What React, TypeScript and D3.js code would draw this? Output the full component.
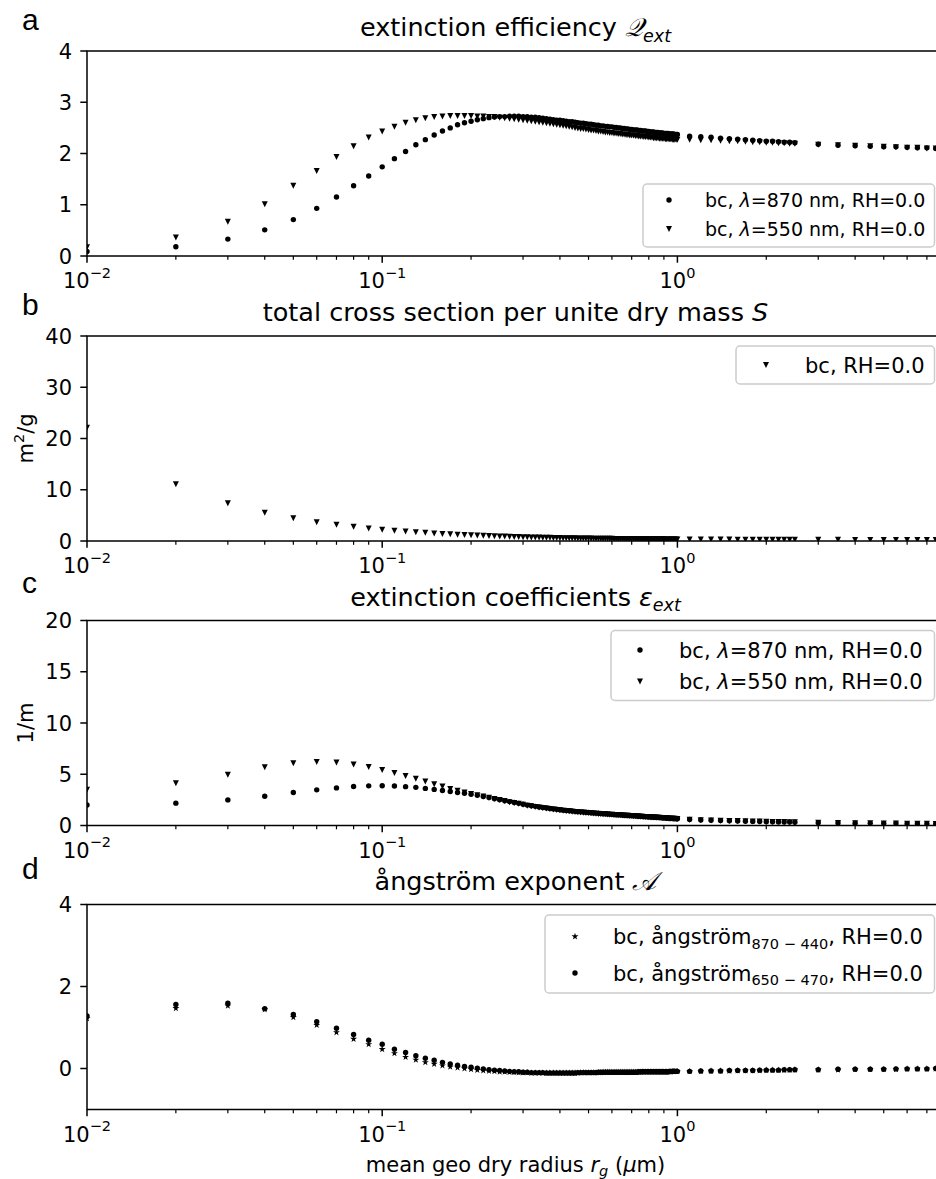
import React from 'react';
import * as d3 from 'd3';

// mean geo dry radius r_g (um)
const radius = [
  0.01, 0.02, 0.03, 0.04, 0.05, 0.06, 0.07, 0.08, 0.09, 0.10,
  0.11, 0.12, 0.13, 0.14, 0.15, 0.16, 0.17, 0.18, 0.19, 0.20,
  0.21, 0.22, 0.23, 0.24, 0.25, 0.26, 0.27, 0.28, 0.29, 0.30,
  0.31, 0.32, 0.33, 0.34, 0.35, 0.36, 0.37, 0.38, 0.39, 0.40,
  0.41, 0.42, 0.43, 0.44, 0.45, 0.46, 0.47, 0.48, 0.49, 0.50,
  0.51, 0.52, 0.53, 0.54, 0.55, 0.56, 0.57, 0.58, 0.59, 0.60,
  0.61, 0.62, 0.63, 0.64, 0.65, 0.66, 0.67, 0.68, 0.69, 0.70,
  0.71, 0.72, 0.73, 0.74, 0.75, 0.76, 0.77, 0.78, 0.79, 0.80,
  0.81, 0.82, 0.83, 0.84, 0.85, 0.86, 0.87, 0.88, 0.89, 0.90,
  0.91, 0.92, 0.93, 0.94, 0.95, 0.96, 0.97, 0.98, 0.99, 1.00,
  1.1, 1.2, 1.3, 1.4, 1.5, 1.6, 1.7, 1.8, 1.9, 2.0, 2.1, 2.2, 2.3, 2.4, 2.5,
  3.0, 3.5, 4.0, 4.5, 5.0, 5.5, 6.0, 6.5, 7.0, 7.5,
];

// a: extinction efficiency
const qext870 = [
  0.09, 0.18, 0.33, 0.51, 0.71, 0.93, 1.15, 1.37, 1.56, 1.74,
  1.90, 2.04, 2.17, 2.27, 2.36, 2.44, 2.50, 2.56, 2.60, 2.63,
  2.66, 2.68, 2.70, 2.71, 2.72, 2.72, 2.73, 2.73, 2.73, 2.72,
  2.72, 2.71, 2.71, 2.70, 2.69, 2.68, 2.67, 2.66, 2.65, 2.65,
  2.64, 2.63, 2.62, 2.62, 2.61, 2.60, 2.59, 2.59, 2.58, 2.57,
  2.57, 2.56, 2.55, 2.55, 2.54, 2.54, 2.53, 2.53, 2.52, 2.52,
  2.51, 2.51, 2.50, 2.50, 2.49, 2.49, 2.48, 2.48, 2.47, 2.47,
  2.46, 2.46, 2.46, 2.45, 2.45, 2.44, 2.44, 2.44, 2.43, 2.43,
  2.42, 2.42, 2.42, 2.41, 2.41, 2.41, 2.40, 2.40, 2.40, 2.39,
  2.39, 2.39, 2.39, 2.38, 2.38, 2.38, 2.38, 2.37, 2.37, 2.37,
  2.34, 2.33, 2.32, 2.30, 2.29, 2.28, 2.27, 2.26, 2.25, 2.24, 2.24, 2.23, 2.22, 2.22, 2.21,
  2.18, 2.16, 2.15, 2.14, 2.13, 2.13, 2.12, 2.11, 2.11, 2.10,
];
const qext550 = [
  0.17, 0.36, 0.67, 1.01, 1.37, 1.66, 1.93, 2.14, 2.31, 2.43,
  2.52, 2.60, 2.65, 2.69, 2.71, 2.72, 2.73, 2.73, 2.73, 2.73,
  2.72, 2.72, 2.71, 2.71, 2.70, 2.69, 2.68, 2.67, 2.66, 2.65,
  2.64, 2.63, 2.62, 2.61, 2.60, 2.59, 2.58, 2.57, 2.56, 2.55,
  2.54, 2.53, 2.52, 2.51, 2.50, 2.49, 2.48, 2.48, 2.47, 2.46,
  2.45, 2.45, 2.44, 2.43, 2.43, 2.42, 2.41, 2.41, 2.40, 2.40,
  2.39, 2.39, 2.38, 2.38, 2.37, 2.37, 2.36, 2.36, 2.35, 2.35,
  2.35, 2.34, 2.34, 2.33, 2.33, 2.33, 2.32, 2.32, 2.32, 2.31,
  2.31, 2.31, 2.30, 2.30, 2.30, 2.30, 2.29, 2.29, 2.29, 2.29,
  2.28, 2.28, 2.28, 2.28, 2.28, 2.27, 2.27, 2.27, 2.27, 2.27,
  2.27, 2.26, 2.26, 2.25, 2.24, 2.24, 2.23, 2.22, 2.22, 2.21, 2.21, 2.20, 2.20, 2.19, 2.19,
  2.17, 2.16, 2.15, 2.14, 2.13, 2.12, 2.11, 2.11, 2.10, 2.10,
];

// b: total cross section per unit dry mass (m2/g)
const sigma550 = [
  22.1, 11.05, 7.37, 5.52, 4.42, 3.68, 3.15, 2.76, 2.45, 2.21,
  2.02, 1.85, 1.71, 1.59, 1.48, 1.39, 1.31, 1.24, 1.17, 1.11,
  1.06, 1.01, 0.97, 0.93, 0.89, 0.86, 0.83, 0.80, 0.77, 0.75,
  0.72, 0.70, 0.68, 0.66, 0.64, 0.63, 0.61, 0.60, 0.58, 0.57,
  0.56, 0.55, 0.54, 0.53, 0.52, 0.51, 0.50, 0.49, 0.48, 0.48,
  0.47, 0.46, 0.46, 0.45, 0.44, 0.44, 0.43, 0.43, 0.42, 0.42,
  0.41, 0.41, 0.40, 0.40, 0.39, 0.39, 0.39, 0.38, 0.38, 0.37,
  0.37, 0.37, 0.36, 0.36, 0.36, 0.35, 0.35, 0.35, 0.34, 0.34,
  0.34, 0.34, 0.33, 0.33, 0.33, 0.33, 0.32, 0.32, 0.32, 0.32,
  0.31, 0.31, 0.31, 0.31, 0.31, 0.30, 0.30, 0.30, 0.30, 0.30,
  0.29, 0.28, 0.28, 0.27, 0.27, 0.26, 0.26, 0.25, 0.25, 0.25, 0.24, 0.24, 0.24, 0.23, 0.23,
  0.22, 0.22, 0.21, 0.21, 0.20, 0.20, 0.20, 0.19, 0.19, 0.19,
];

// c: extinction coefficients (1/m)
const ext870 = [
  2.00, 2.18, 2.50, 2.86, 3.22, 3.48, 3.67, 3.80, 3.87, 3.88,
  3.85, 3.79, 3.72, 3.62, 3.52, 3.42, 3.32, 3.22, 3.14, 3.05,
  2.94, 2.83, 2.72, 2.62, 2.52, 2.42, 2.33, 2.24, 2.16, 2.08,
  1.99, 1.93, 1.87, 1.81, 1.76, 1.71, 1.66, 1.62, 1.58, 1.54,
  1.50, 1.47, 1.44, 1.41, 1.38, 1.35, 1.33, 1.31, 1.29, 1.27,
  1.25, 1.23, 1.21, 1.19, 1.17, 1.15, 1.14, 1.12, 1.11, 1.09,
  1.08, 1.06, 1.05, 1.04, 1.02, 1.01, 1.00, 0.98, 0.97, 0.96,
  0.95, 0.94, 0.92, 0.91, 0.90, 0.89, 0.88, 0.87, 0.86, 0.85,
  0.84, 0.83, 0.82, 0.81, 0.80, 0.79, 0.78, 0.77, 0.76, 0.75,
  0.74, 0.73, 0.72, 0.71, 0.70, 0.70, 0.69, 0.68, 0.67, 0.66,
  0.58, 0.54, 0.51, 0.48, 0.46, 0.44, 0.42, 0.40, 0.39, 0.37, 0.36, 0.35, 0.34, 0.33, 0.32,
  0.27, 0.25, 0.23, 0.21, 0.20, 0.19, 0.18, 0.17, 0.16, 0.15,
];
const ext550 = [
  3.48, 4.13, 4.94, 5.68, 6.07, 6.20, 6.14, 5.94, 5.71, 5.42,
  5.13, 4.84, 4.55, 4.29, 4.03, 3.80, 3.57, 3.38, 3.22, 3.07,
  2.94, 2.82, 2.70, 2.59, 2.48, 2.38, 2.28, 2.19, 2.11, 2.03,
  1.93, 1.87, 1.81, 1.75, 1.70, 1.65, 1.60, 1.56, 1.52, 1.48,
  1.44, 1.41, 1.38, 1.35, 1.32, 1.29, 1.27, 1.25, 1.23, 1.21,
  1.19, 1.17, 1.15, 1.13, 1.12, 1.10, 1.09, 1.07, 1.06, 1.04,
  1.03, 1.01, 1.00, 0.99, 0.97, 0.96, 0.95, 0.94, 0.93, 0.92,
  0.91, 0.90, 0.88, 0.87, 0.86, 0.85, 0.84, 0.83, 0.82, 0.81,
  0.80, 0.79, 0.78, 0.77, 0.76, 0.75, 0.75, 0.74, 0.73, 0.72,
  0.71, 0.70, 0.69, 0.68, 0.67, 0.67, 0.66, 0.65, 0.64, 0.63,
  0.56, 0.52, 0.49, 0.47, 0.45, 0.43, 0.41, 0.39, 0.38, 0.36, 0.35, 0.34, 0.33, 0.32, 0.31,
  0.27, 0.25, 0.23, 0.21, 0.20, 0.19, 0.18, 0.17, 0.16, 0.15,
];

// d: angstrom exponent
const ang870_440 = [
  1.22, 1.47, 1.53, 1.44, 1.25, 1.06, 0.88, 0.72, 0.59, 0.47,
  0.37, 0.28, 0.21, 0.15, 0.11, 0.07, 0.04, 0.02, 0.00, -0.02,
  -0.04, -0.05, -0.06, -0.07, -0.08, -0.08, -0.09, -0.09, -0.10, -0.10,
  -0.10, -0.11, -0.11, -0.11, -0.11, -0.11, -0.11, -0.11, -0.11, -0.11,
  -0.11, -0.11, -0.11, -0.11, -0.11, -0.11, -0.10, -0.10, -0.10, -0.10,
  -0.10, -0.10, -0.10, -0.10, -0.10, -0.09, -0.09, -0.09, -0.09, -0.09,
  -0.09, -0.09, -0.09, -0.09, -0.09, -0.09, -0.09, -0.09, -0.09, -0.09,
  -0.09, -0.09, -0.09, -0.09, -0.09, -0.08, -0.08, -0.08, -0.08, -0.08,
  -0.08, -0.08, -0.08, -0.08, -0.08, -0.08, -0.08, -0.08, -0.08, -0.08,
  -0.08, -0.08, -0.08, -0.08, -0.08, -0.07, -0.07, -0.07, -0.07, -0.07,
  -0.07, -0.07, -0.06, -0.06, -0.06, -0.05, -0.05, -0.05, -0.05, -0.04, -0.04, -0.04, -0.04, -0.04, -0.03,
  -0.03, -0.03, -0.02, -0.02, -0.02, -0.02, -0.01, -0.01, -0.01, -0.01,
];
const ang650_470 = [
  1.28, 1.56, 1.59, 1.46, 1.32, 1.14, 0.98, 0.83, 0.69, 0.59,
  0.47, 0.39, 0.31, 0.25, 0.20, 0.15, 0.11, 0.08, 0.05, 0.03,
  0.01, -0.01, -0.03, -0.04, -0.05, -0.06, -0.07, -0.08, -0.08, -0.09,
  -0.09, -0.10, -0.10, -0.10, -0.10, -0.11, -0.11, -0.11, -0.11, -0.11,
  -0.11, -0.11, -0.11, -0.11, -0.11, -0.10, -0.10, -0.10, -0.10, -0.10,
  -0.10, -0.10, -0.10, -0.09, -0.09, -0.09, -0.09, -0.09, -0.09, -0.09,
  -0.09, -0.09, -0.09, -0.09, -0.09, -0.09, -0.09, -0.09, -0.09, -0.09,
  -0.09, -0.09, -0.09, -0.08, -0.08, -0.08, -0.08, -0.08, -0.08, -0.08,
  -0.08, -0.08, -0.08, -0.08, -0.08, -0.08, -0.08, -0.08, -0.08, -0.08,
  -0.08, -0.08, -0.08, -0.07, -0.07, -0.07, -0.07, -0.07, -0.07, -0.07,
  -0.07, -0.06, -0.06, -0.06, -0.05, -0.05, -0.05, -0.05, -0.04, -0.04, -0.04, -0.04, -0.03, -0.03, -0.03,
  -0.03, -0.02, -0.02, -0.02, -0.02, -0.01, -0.01, -0.01, -0.01, 0.00,
];

const qTicks = [0, 1, 2, 3, 4];
const sTicks = [0, 10, 20, 30, 40];
const eTicks = [0, 5, 10, 15, 20];
const aTicks = [0, 2, 4];
const xMajor = [0.01, 0.1, 1];
const xMajorExp = ['−2', '−1', '0'];

const FONT = 'DejaVu Sans, sans-serif';
const FS = 21; // tick, legend and axis label size
const FS_SMALL = 14.5; // super/subscripts
const FS_TITLE = 25.5;
const X0 = 87;
const X1 = 944;
const H = 205;
const x = d3.scaleLog().domain([0.01, 8]).range([X0, X1]);

type Shape = 'circle' | 'tri' | 'star';

const starPath = d3.symbol(d3.symbolStar).size(15)() as string;

function Marker({ shape, cx, cy }: { shape: Shape; cx: number; cy: number }) {
  if (shape === 'circle') return <circle cx={cx} cy={cy} r={2.7} fill="#000" />;
  if (shape === 'tri')
    return <path d={`M${cx - 3},${cy - 3}L${cx + 3},${cy - 3}L${cx},${cy + 3}Z`} fill="#000" />;
  return <path d={starPath} transform={`translate(${cx},${cy})`} fill="#000" />;
}

interface Series {
  values: number[];
  shape: Shape;
}

interface LegendRow {
  shape: Shape;
  cy: number;
  label: React.ReactNode;
}

interface PanelProps {
  id: string;
  top: number;
  letter: string;
  letterY: number;
  title: React.ReactNode;
  ylabel?: React.ReactNode;
  yDomain: [number, number];
  yTicks: number[];
  series: Series[];
  legend: { x: number; y: number; w: number; h: number; mx: number; tx: number; fs: number; rows: LegendRow[] };
}

function Panel(p: PanelProps) {
  const y = d3.scaleLinear().domain(p.yDomain).range([p.top + H, p.top]);
  const bottom = p.top + H;
  const minor = x.ticks().filter((t) => !xMajor.some((m) => Math.abs(m - t) < 1e-9));
  const lg = p.legend;
  return (
    <g>
      <text x={22} y={p.letterY} fontFamily="Liberation Sans, Arial, sans-serif" fontSize={30}>
        {p.letter}
      </text>
      <text x={(X0 + X1) / 2} y={p.top - 15} textAnchor="middle" fontFamily={FONT} fontSize={FS_TITLE}>
        {p.title}
      </text>
      <clipPath id={`clip-${p.id}`}>
        <rect x={X0} y={p.top} width={X1 - X0} height={H} />
      </clipPath>
      <g clipPath={`url(#clip-${p.id})`}>
        {p.series.map((s, si) =>
          s.values.map((v, i) => <Marker key={`${si}-${i}`} shape={s.shape} cx={x(radius[i])} cy={y(v)} />)
        )}
      </g>
      {/* legend */}
      <rect
        x={lg.x}
        y={lg.y}
        width={lg.w}
        height={lg.h}
        rx={4}
        fill="#fff"
        fillOpacity={0.8}
        stroke="#cccccc"
        strokeWidth={1.5}
      />
      {lg.rows.map((r, i) => (
        <g key={i}>
          <Marker shape={r.shape} cx={lg.mx} cy={r.cy} />
          <text x={lg.tx} y={r.cy + lg.fs * 0.36} fontFamily={FONT} fontSize={lg.fs} fill="#000">
            {r.label}
          </text>
        </g>
      ))}
      {/* y axis */}
      {p.yTicks.map((t) => (
        <g key={t}>
          <line x1={X0 - 6.7} x2={X0} y1={y(t)} y2={y(t)} stroke="#000" strokeWidth={1.5} />
          <text x={72} y={y(t) + 7.6} textAnchor="end" fontFamily={FONT} fontSize={FS}>
            {t}
          </text>
        </g>
      ))}
      {p.ylabel && (
        <text
          transform={`translate(33,${p.top + H / 2}) rotate(-90)`}
          textAnchor="middle"
          fontFamily={FONT}
          fontSize={FS}
        >
          {p.ylabel}
        </text>
      )}
      {/* x axis */}
      {minor.map((t) => (
        <line key={t} x1={x(t)} x2={x(t)} y1={bottom} y2={bottom + 3.8} stroke="#000" strokeWidth={1.2} />
      ))}
      {xMajor.map((t, i) => (
        <g key={t}>
          <line x1={x(t)} x2={x(t)} y1={bottom} y2={bottom + 6.7} stroke="#000" strokeWidth={1.5} />
          <text x={x(t)} y={bottom + 32.4} textAnchor="middle" fontFamily={FONT} fontSize={FS}>
            10<tspan fontSize={FS_SMALL} dy={-10.5}>{xMajorExp[i]}</tspan>
          </text>
        </g>
      ))}
      <rect x={X0} y={p.top} width={X1 - X0} height={H} fill="none" stroke="#000" strokeWidth={1.5} />
    </g>
  );
}

const lam = (nm: string) => (
  <>
    bc, <tspan fontStyle="italic">λ</tspan>={nm} nm, RH=0.0
  </>
);

const ang = (s: string) => (
  <>
    bc, ångström<tspan fontSize={FS_SMALL} dy={4.5}>{s}</tspan>
    <tspan dy={-4.5}>, RH=0.0</tspan>
  </>
);

const sub = (s: string) => (
  <tspan fontSize={17.5} fontStyle="italic" dy={5.5}>
    {s}
  </tspan>
);

export default function App() {
  return (
    <div style={{ position: 'absolute', left: 0, top: 0 }}>
      <svg width={936} height={1179} style={{ display: 'block', background: '#fff' }}>
        <Panel
          id="a"
          top={51}
          letter="a"
          letterY={29.5}
          title={
            <>
              extinction efficiency <tspan fontStyle="italic">𝒬</tspan>
              {sub('ext')}
            </>
          }
          yDomain={[0, 4]}
          yTicks={qTicks}
          series={[
            { values: qext870, shape: 'circle' },
            { values: qext550, shape: 'tri' },
          ]}
          legend={{
            x: 643,
            y: 184,
            w: 291.5,
            h: 63,
            mx: 669,
            tx: 705,
            fs: 19,
            rows: [
              { shape: 'circle', cy: 200, label: lam('870') },
              { shape: 'tri', cy: 229, label: lam('550') },
            ],
          }}
        />
        <Panel
          id="b"
          top={336}
          letter="b"
          letterY={315}
          title={
            <>
              total cross section per unite dry mass <tspan fontStyle="italic">S</tspan>
            </>
          }
          ylabel={
            <>
              m<tspan fontSize={FS_SMALL} dy={-9}>2</tspan>
              <tspan dy={9}>/g</tspan>
            </>
          }
          yDomain={[0, 40]}
          yTicks={sTicks}
          series={[{ values: sigma550, shape: 'tri' }]}
          legend={{
            x: 736,
            y: 346,
            w: 198.5,
            h: 38,
            mx: 766,
            tx: 805,
            fs: FS,
            rows: [{ shape: 'tri', cy: 365, label: 'bc, RH=0.0' }],
          }}
        />
        <Panel
          id="c"
          top={620.5}
          letter="c"
          letterY={592.5}
          title={
            <>
              extinction coefficients <tspan fontStyle="italic">ε</tspan>
              {sub('ext')}
            </>
          }
          ylabel="1/m"
          yDomain={[0, 20]}
          yTicks={eTicks}
          series={[
            { values: ext870, shape: 'circle' },
            { values: ext550, shape: 'tri' },
          ]}
          legend={{
            x: 611,
            y: 630.5,
            w: 323.5,
            h: 70,
            mx: 640,
            tx: 679,
            fs: FS,
            rows: [
              { shape: 'circle', cy: 650, label: lam('870') },
              { shape: 'tri', cy: 681.5, label: lam('550') },
            ],
          }}
        />
        <Panel
          id="d"
          top={904.5}
          letter="d"
          letterY={878.5}
          title={
            <>
              ångström exponent <tspan fontStyle="italic">𝒜</tspan>
            </>
          }
          yDomain={[-1, 4]}
          yTicks={aTicks}
          series={[
            { values: ang870_440, shape: 'star' },
            { values: ang650_470, shape: 'circle' },
          ]}
          legend={{
            x: 545,
            y: 915,
            w: 389.5,
            h: 78,
            mx: 575,
            tx: 613,
            fs: FS,
            rows: [
              { shape: 'star', cy: 936.5, label: ang('870 − 440') },
              { shape: 'circle', cy: 973, label: ang('650 − 470') },
            ],
          }}
        />
        <text x={(X0 + X1) / 2} y={1171.5} textAnchor="middle" fontFamily={FONT} fontSize={FS}>
          mean geo dry radius <tspan fontStyle="italic">r</tspan>
          <tspan fontStyle="italic" fontSize={FS_SMALL} dy={4.5}>g</tspan>
          <tspan dy={-4.5}> (</tspan>
          <tspan fontStyle="italic">μ</tspan>m)
        </text>
      </svg>
    </div>
  );
}
